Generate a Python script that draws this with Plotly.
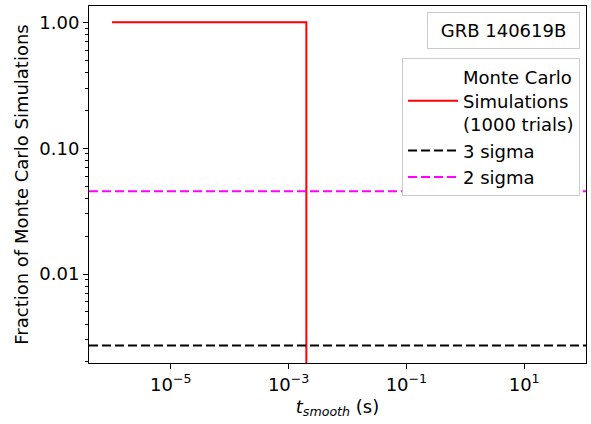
import numpy as np
import plotly.graph_objects as go

# ---- data ----
t_smooth = [1e-6, 2.0e-3, 2.0e-3]          # s
fraction = [1.0, 1.0, 0.0]                 # fraction of MC simulations
three_sigma = 0.0027
two_sigma = 0.0455
x_tickvals = [1e-5, 1e-3, 1e-1, 1e1]
x_ticktext = ["10<sup>\u22125</sup>", "10<sup>\u22123</sup>", "10<sup>\u22121</sup>", "10<sup>1</sup>"]
y_tickvals = [0.01, 0.1, 1.0]
y_ticktext = ["0.01", "0.10", "1.00"]
y_minor = [m * 10.0 ** e for e in (-3, -2, -1) for m in range(2, 10)]

FONT = "DejaVu Sans"
display_floor = 1e-4
frac_plot = np.clip(np.array(fraction), display_floor, None)

fig = go.Figure()
fig.add_trace(go.Scatter(
    x=t_smooth, y=frac_plot, mode="lines",
    line=dict(color="#ff0000", width=2),
    name="Monte Carlo<br>Simulations<br>(1000 trials)"))
fig.add_trace(go.Scatter(x=[None], y=[None], mode="lines",
    line=dict(color="black", width=2, dash="9px,4px"), name="3 sigma"))
fig.add_trace(go.Scatter(x=[None], y=[None], mode="lines",
    line=dict(color="#ff00ff", width=2, dash="9px,4px"), name="2 sigma"))

fig.add_hline(y=three_sigma, line=dict(color="black", width=2, dash="9px,4px"))
fig.add_hline(y=two_sigma, line=dict(color="#ff00ff", width=2, dash="9px,4px"))

fig.add_annotation(text="\u00a0GRB 140619B\u00a0", xref="paper", yref="paper",
    x=0.988, y=0.983, xanchor="right", yanchor="top", showarrow=False,
    font=dict(family=FONT, size=18, color="black"),
    bordercolor="#cccccc", borderwidth=1, borderpad=7, bgcolor="white")

fig.update_layout(
    width=591, height=424,
    margin=dict(l=89, r=5, t=6, b=61),
    plot_bgcolor="white", paper_bgcolor="white",
    font=dict(family=FONT, size=18, color="black"),
    legend=dict(x=0.988, y=0.854, xanchor="right", yanchor="top",
                bordercolor="#cccccc", borderwidth=1, bgcolor="white",
                font=dict(family=FONT, size=18), tracegroupgap=0,
                itemwidth=50),
    showlegend=True,
)
fig.update_xaxes(type="log", range=[-6.39, 2.05],
    tickvals=x_tickvals, ticktext=x_ticktext,
    ticks="outside", ticklen=5, tickwidth=1, tickcolor="black",
    showline=True, linecolor="black", linewidth=1, mirror=True,
    showgrid=False, zeroline=False,
    title=dict(text="<i>t</i><sub><i>smooth</i></sub> (s)", font=dict(size=18), standoff=6))
fig.update_yaxes(type="log", range=[-2.707, 0.13],
    tickvals=y_tickvals, ticktext=y_ticktext,
    ticks="outside", ticklen=5, tickwidth=1, tickcolor="black",
    minor=dict(tickvals=y_minor, ticks="outside", ticklen=3, tickwidth=1, tickcolor="black", showgrid=False),
    showline=True, linecolor="black", linewidth=1, mirror=True,
    showgrid=False, zeroline=False,
    title=dict(text="Fraction of Monte Carlo Simulations", font=dict(size=18), standoff=6))

fig.write_html("out.html")
